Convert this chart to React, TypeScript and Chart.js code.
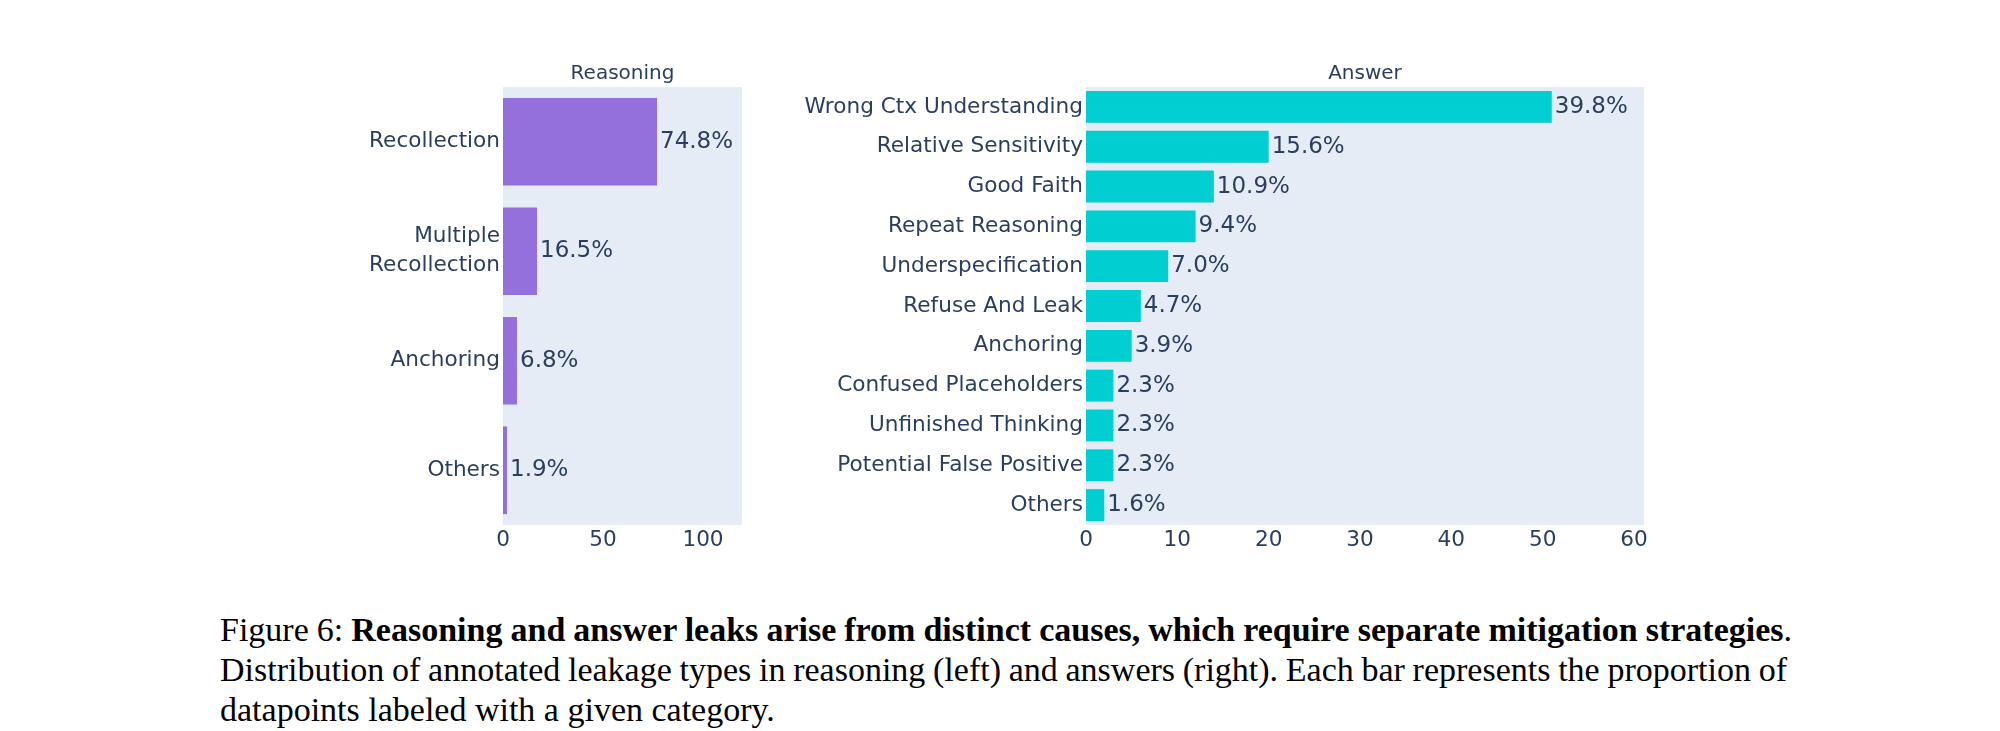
import React, { useEffect, useRef } from 'react';
import { Chart, registerables } from 'chart.js';

Chart.register(...registerables);

// ---- Data ----
const reasoningCategories: (string | string[])[] = ['Recollection', ['Multiple', 'Recollection'], 'Anchoring', 'Others'];
const reasoningCounts = [77, 17, 7, 2];
const reasoningPercents = ['74.8%', '16.5%', '6.8%', '1.9%'];
const reasoningTicks = [0, 50, 100];

const answerCategories = [
  'Wrong Ctx Understanding',
  'Relative Sensitivity',
  'Good Faith',
  'Repeat Reasoning',
  'Underspecification',
  'Refuse And Leak',
  'Anchoring',
  'Confused Placeholders',
  'Unfinished Thinking',
  'Potential False Positive',
  'Others',
];
const answerCounts = [51, 20, 14, 12, 9, 6, 5, 3, 3, 3, 2];
const answerPercents = ['39.8%', '15.6%', '10.9%', '9.4%', '7.0%', '4.7%', '3.9%', '2.3%', '2.3%', '2.3%', '1.6%'];
const answerTicks = [0, 10, 20, 30, 40, 50, 60];

// ---- Styles ----
const TEXT = '#2a3f5f';
const FONT = "'DejaVu Sans', sans-serif";
const PLOT_BG = '#E5ECF6';

interface PanelSpec {
  title: string;
  categories: (string | string[])[];
  values: number[];
  texts: string[];
  ticks: number[];
  xMax: number;
  color: string;
  yAxisWidth: number;
  padRight: number;
}

function makePlugin(spec: PanelSpec) {
  return {
    id: 'panelDecor',
    beforeDraw(chart: any) {
      const { ctx, chartArea } = chart;
      ctx.save();
      ctx.fillStyle = PLOT_BG;
      ctx.fillRect(chartArea.left, chartArea.top, chartArea.right - chartArea.left, chartArea.bottom - chartArea.top);
      ctx.restore();
    },
    afterDatasetsDraw(chart: any) {
      const { ctx, chartArea } = chart;
      const meta = chart.getDatasetMeta(0);
      ctx.save();
      ctx.font = `23px ${FONT}`;
      ctx.fillStyle = TEXT;
      ctx.textAlign = 'left';
      ctx.textBaseline = 'middle';
      meta.data.forEach((bar: any, i: number) => {
        ctx.fillText(spec.texts[i], bar.x + 3, bar.y);
      });
      ctx.font = `20px ${FONT}`;
      ctx.textAlign = 'center';
      ctx.fillText(spec.title, (chartArea.left + chartArea.right) / 2, chartArea.top - 13);
      ctx.restore();
    },
  };
}

function makeConfig(spec: PanelSpec): any {
  return {
    type: 'bar',
    data: {
      labels: spec.categories,
      datasets: [
        {
          data: spec.values,
          backgroundColor: spec.color,
          borderWidth: 0,
          barPercentage: 0.8,
          categoryPercentage: 1,
        },
      ],
    },
    options: {
      indexAxis: 'y',
      animation: false,
      responsive: false,
      devicePixelRatio: 1,
      layout: { padding: { top: 47, right: spec.padRight, left: 0, bottom: 0 } },
      plugins: {
        legend: { display: false },
        tooltip: { enabled: false },
        title: { display: false },
      },
      scales: {
        x: {
          type: 'linear',
          min: 0,
          max: spec.xMax,
          grid: { display: false, drawTicks: false },
          border: { display: false },
          ticks: {
            color: TEXT,
            font: { family: FONT, size: 21.6 },
            padding: 2,
            maxRotation: 0,
          },
          afterBuildTicks: (scale: any) => {
            scale.ticks = spec.ticks.map((v) => ({ value: v }));
          },
          afterFit: (scale: any) => {
            scale.height = 57;
          },
        },
        y: {
          type: 'category',
          grid: { display: false, drawTicks: false },
          border: { display: false },
          ticks: {
            color: TEXT,
            font: { family: FONT, size: 21.6, lineHeight: 1.35 },
            padding: 3,
            autoSkip: false,
          },
          afterFit: (scale: any) => {
            scale.width = spec.yAxisWidth;
          },
        },
      },
    },
    plugins: [makePlugin(spec)],
  };
}

function Panel(props: { spec: PanelSpec; left: number; top: number; width: number; height: number }) {
  const ref = useRef<HTMLCanvasElement>(null);
  useEffect(() => {
    const chart = new Chart(ref.current as HTMLCanvasElement, makeConfig(props.spec));
    return () => chart.destroy();
  }, []);
  return (
    <canvas
      ref={ref}
      width={props.width}
      height={props.height}
      style={{ position: 'absolute', left: props.left, top: props.top, width: props.width, height: props.height }}
    />
  );
}

const reasoningSpec: PanelSpec = {
  title: 'Reasoning',
  categories: reasoningCategories,
  values: reasoningCounts,
  texts: reasoningPercents,
  ticks: reasoningTicks,
  xMax: 119.5,
  color: '#9370DB',
  yAxisWidth: 203,
  padRight: 58,
};

const answerSpec: PanelSpec = {
  title: 'Answer',
  categories: answerCategories,
  values: answerCounts,
  texts: answerPercents,
  ticks: answerTicks,
  xMax: 61.1,
  color: '#00CED1',
  yAxisWidth: 286,
  padRight: 56,
};

export default function App() {
  const lineStyle: React.CSSProperties = {
    whiteSpace: 'nowrap',
    height: 40,
  };
  return (
    <div style={{ position: 'absolute', left: 0, top: 0, width: 2000, height: 731, background: '#fff', overflow: 'hidden' }}>
      <Panel spec={reasoningSpec} left={300} top={40} width={500} height={542} />
      <Panel spec={answerSpec} left={800} top={40} width={900} height={542} />
      <div
        style={{
          position: 'absolute',
          left: 220,
          top: 610,
          width: 1572,
          fontFamily: "'Liberation Serif', 'Times New Roman', serif",
          fontSize: 34,
          lineHeight: '40px',
          color: '#000',
        }}
      >
        <div style={{ ...lineStyle, width: 1572, wordSpacing: -2, textAlign: 'justify', textAlignLast: 'justify' }}>
          Figure 6: <b>Reasoning and answer leaks arise from distinct causes, which require separate mitigation strategies</b>.
        </div>
        <div style={{ ...lineStyle, width: 1567, wordSpacing: -2, textAlign: 'justify', textAlignLast: 'justify' }}>
          Distribution of annotated leakage types in reasoning (left) and answers (right). Each bar represents the proportion of
        </div>
        <div style={lineStyle}>datapoints labeled with a given category.</div>
      </div>
    </div>
  );
}
